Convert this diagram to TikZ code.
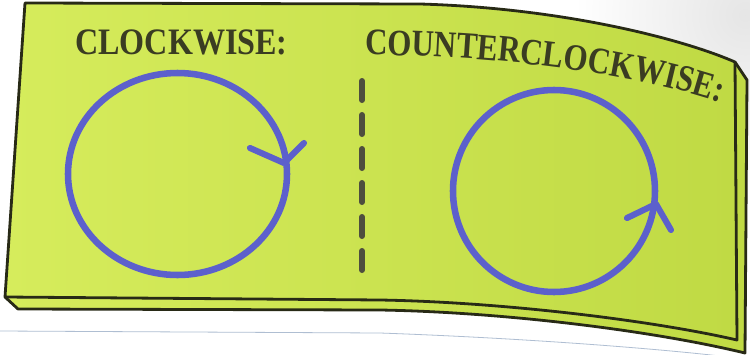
\documentclass[tikz,border=0pt]{standalone}
\usepackage{fontspec}
\setmainfont{Liberation Serif}
\newfontfamily\cwfam[FakeStretch=0.86]{Liberation Serif}
\newfontfamily\ccwfam[FakeStretch=0.83]{Liberation Serif}
\usetikzlibrary{decorations.text}
\definecolor{cardL}{RGB}{214,236,92}
\definecolor{cardR}{RGB}{192,218,68}
\definecolor{edgecol}{RGB}{40,42,22}
\definecolor{ink}{RGB}{58,60,34}
\definecolor{loopblue}{RGB}{92,96,204}
\definecolor{dashcol}{RGB}{78,78,62}
\definecolor{pageline}{RGB}{175,190,210}
\begin{document}
\begin{tikzpicture}[x=0.75pt,y=-0.75pt,
  cardedge/.style={draw=edgecol,line width=2.1pt,line join=round},
  loopline/.style={draw=loopblue,line width=4.9pt},
  arrowarm/.style={draw=loopblue,line width=4.6pt,line cap=round,line join=round},
  divider/.style={draw=dashcol,line width=4.5pt,line cap=round,dash pattern=on 14.25pt off 11.25pt},
  titletext/.style={text=ink,inner sep=0pt,anchor=base,font=\cwfam\fontsize{28}{30}\selectfont\bfseries}]
\useasboundingbox (0,0) rectangle (750,354);
\fill[white] (0,0) rectangle (750,354);
\shade[inner color=gray!20,outer color=white] (745,15) circle [radius=170];
\fill[white] (0,0) rectangle (420,354);
% faint page line
\draw[pageline,line width=0.6pt] (0,331) -- (380,333) .. controls (520,338) and (650,348) .. (720,356);
% lower layer of the card
\shade[left color=cardL,right color=cardR] (5,297) -- (18,309) -- (380,310) .. controls (500,312) and (650,330) .. (745,353) -- (747,80) -- (735,62) -- (25,3) -- cycle;
\draw[cardedge] (5,297) -- (18,309) -- (380,310) .. controls (500,312) and (650,330) .. (745,353) -- (747,80) -- (735,62);
% top layer of the card
\shade[left color=cardL,right color=cardR] (25,3) -- (420,4) .. controls (560,8) and (680,38) .. (735,62) -- (737,340) .. controls (650,320) and (500,302) .. (380,300) -- (5,297) -- cycle;
\draw[cardedge] (25,3) -- (420,4) .. controls (560,8) and (680,38) .. (735,62) -- (737,340) .. controls (650,320) and (500,302) .. (380,300) -- (5,297) -- cycle;
% titles
\node[titletext] (cw) at (181.5,54) {CLOCKWISE:};
\path[decorate,decoration={text along path,text align=left,
  text={|\ccwfam\fontsize{28}{30}\selectfont\bfseries\color{ink}|COUNTERCLOCKWISE:}}]
  (365,55) .. controls (480,55) and (630,70) .. (728,105);
% divider
\coordinate (dtop) at (362,81);
\coordinate (dbot) at (362,270);
\draw[divider] (dtop) -- (dbot);
% clockwise loop
\coordinate (lc) at (177.5,174);
\draw[loopline] (lc) ellipse [x radius=109.5,y radius=101];
\coordinate (la) at (250,148);
\coordinate (lv) at (284,163);
\coordinate (lb) at (304,143);
\draw[arrowarm] (la) -- (lv) -- (lb);
% counterclockwise loop
\coordinate (rc) at (554,191);
\draw[loopline] (rc) circle [radius=101];
\coordinate (ra) at (627,218);
\coordinate (rv) at (656,204);
\coordinate (rb) at (671,230);
\draw[arrowarm] (ra) -- (rv) -- (rb);
\end{tikzpicture}
\end{document}
